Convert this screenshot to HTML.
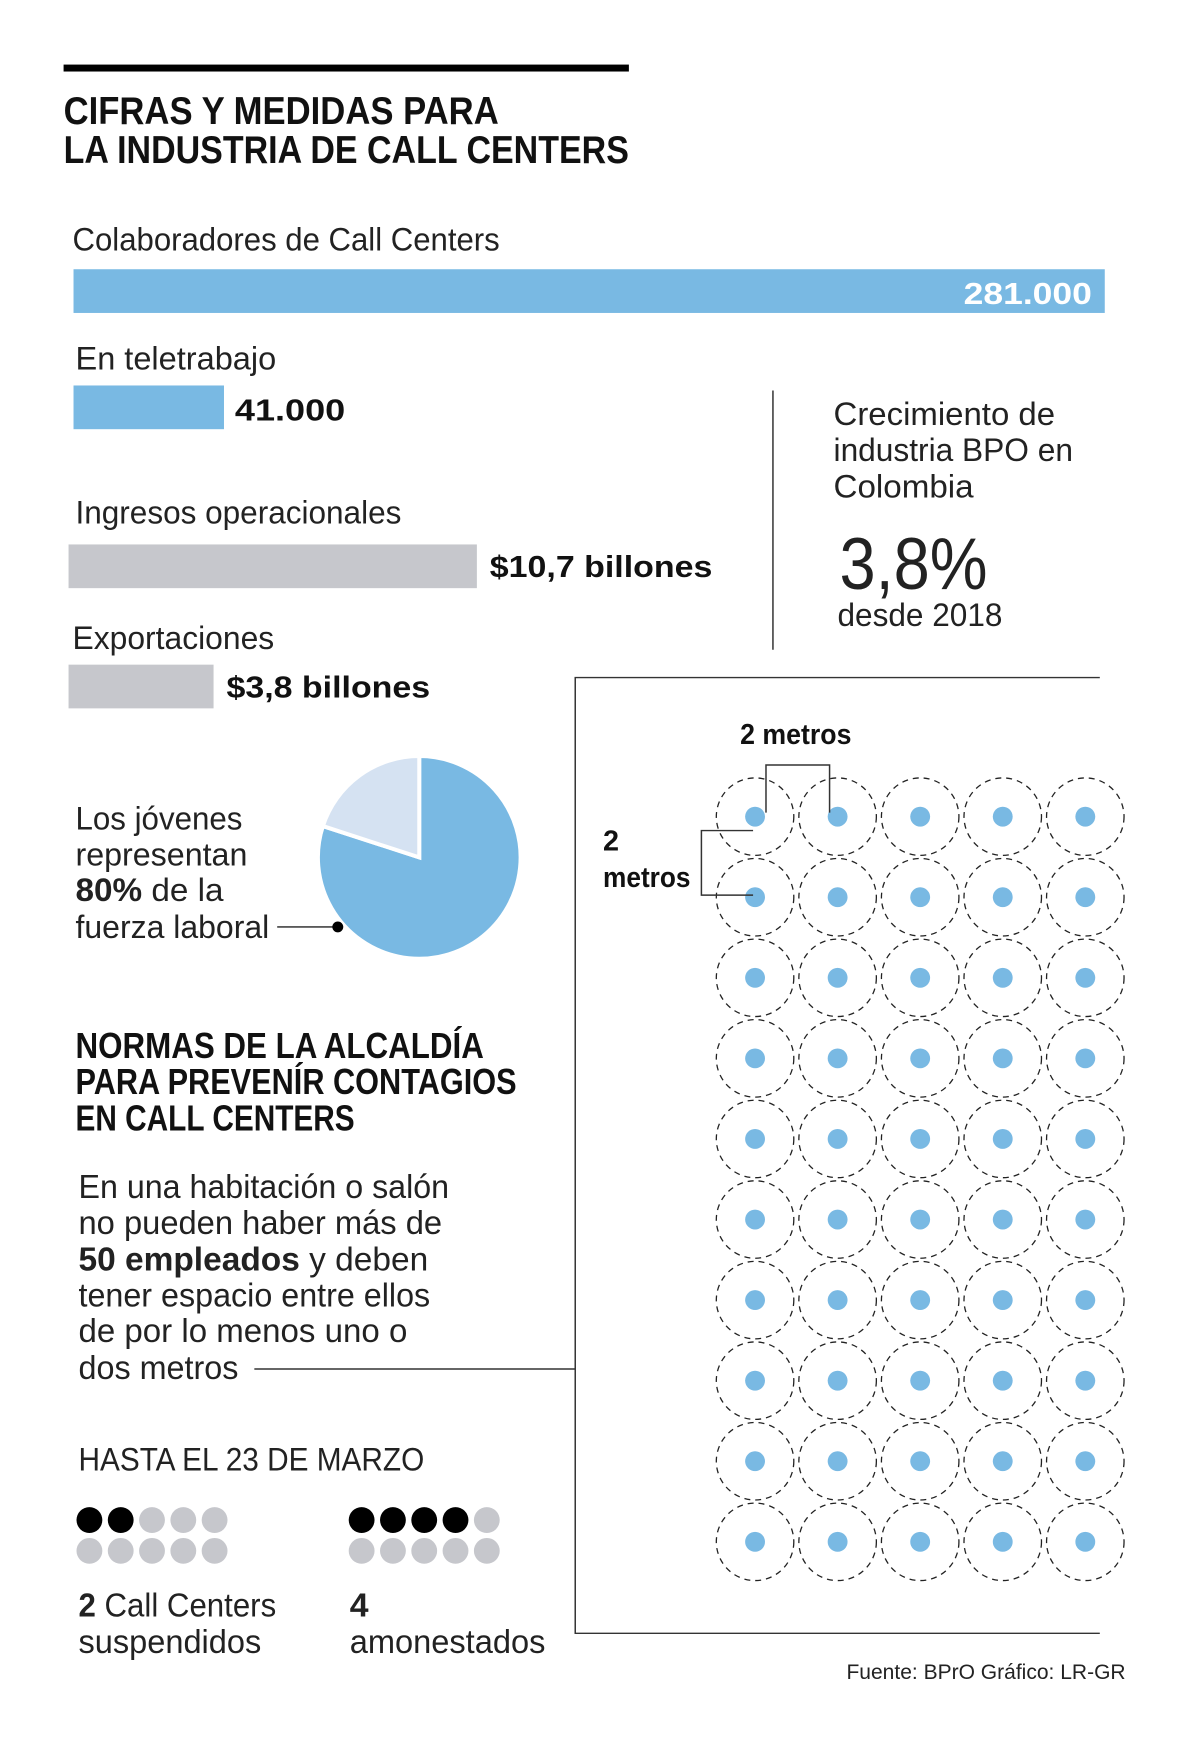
<!DOCTYPE html>
<html><head><meta charset="utf-8"><style>
html,body{margin:0;padding:0;background:#fff;}
svg{display:block;font-family:"Liberation Sans",sans-serif;}
</style></head><body>
<svg id="c" width="1200" height="1748" viewBox="0 0 1200 1748" xmlns="http://www.w3.org/2000/svg">
<g transform="scale(0.9935)">
<rect x="64" y="65" width="569" height="7" fill="#000"/>
<g font-weight="bold" font-size="39" fill="#111">
<text x="64" y="125" textLength="438" lengthAdjust="spacingAndGlyphs">CIFRAS Y MEDIDAS PARA</text>
<text x="64" y="164" textLength="569" lengthAdjust="spacingAndGlyphs">LA INDUSTRIA DE CALL CENTERS</text>
</g>
<g id="bars"></g>
<line x1="778" y1="393" x2="778" y2="654" stroke="#333" stroke-width="1.5"/>
<g fill="#222" font-size="33">
<text x="839" y="428" textLength="223" lengthAdjust="spacingAndGlyphs">Crecimiento de</text>
<text x="839" y="464" textLength="241" lengthAdjust="spacingAndGlyphs">industria BPO en</text>
<text x="839" y="501" textLength="141" lengthAdjust="spacingAndGlyphs">Colombia</text>
<text x="845" y="593" font-size="74" textLength="149" lengthAdjust="spacingAndGlyphs">3,8%</text>
<text x="843" y="630" textLength="166" lengthAdjust="spacingAndGlyphs">desde 2018</text>
</g>
<g stroke="#333" stroke-width="1.5" fill="none">
<polyline points="1107,682 579,682 579,1644 1107,1644"/>
<line x1="256" y1="1378" x2="579" y2="1378"/>
</g>
<g id="grid"></g>
<g stroke="#333" stroke-width="1.5" fill="none">
<polyline points="771,818 771,770 835,770 835,818"/>
<polyline points="758,836 706,836 706,901 758,901"/>
</g>
<g font-weight="bold" font-size="29" fill="#111">
<text x="745" y="749" textLength="112" lengthAdjust="spacingAndGlyphs">2 metros</text>
<text x="607" y="856">2</text>
<text x="607" y="893" textLength="88" lengthAdjust="spacingAndGlyphs">metros</text>
</g>
<g id="pie"></g>
<g fill="#222" font-size="33">
<text x="76" y="835" textLength="168" lengthAdjust="spacingAndGlyphs">Los jóvenes</text>
<text x="76" y="871" textLength="173" lengthAdjust="spacingAndGlyphs">representan</text>
<text x="76" y="907" textLength="149" lengthAdjust="spacingAndGlyphs"><tspan font-weight="bold">80%</tspan> de la</text>
<text x="76" y="944" textLength="195" lengthAdjust="spacingAndGlyphs">fuerza laboral</text>
<line x1="279" y1="933" x2="340" y2="933" stroke="#222" stroke-width="1.5"/>
<circle cx="340" cy="933" r="5.5" fill="#000"/>
</g>
<g font-weight="bold" font-size="36" fill="#111">
<text x="76" y="1065" textLength="411" lengthAdjust="spacingAndGlyphs">NORMAS DE LA ALCALDÍA</text>
<text x="76" y="1101" textLength="444" lengthAdjust="spacingAndGlyphs">PARA PREVENÍR CONTAGIOS</text>
<text x="76" y="1138" textLength="281" lengthAdjust="spacingAndGlyphs">EN CALL CENTERS</text>
</g>
<g fill="#222" font-size="34">
<text x="79" y="1206" textLength="373" lengthAdjust="spacingAndGlyphs">En una habitación o salón</text>
<text x="79" y="1242" textLength="366" lengthAdjust="spacingAndGlyphs">no pueden haber más de</text>
<text x="79" y="1279" textLength="352" lengthAdjust="spacingAndGlyphs"><tspan font-weight="bold">50 empleados</tspan> y deben</text>
<text x="79" y="1315" textLength="354" lengthAdjust="spacingAndGlyphs">tener espacio entre ellos</text>
<text x="79" y="1351" textLength="331" lengthAdjust="spacingAndGlyphs">de por lo menos uno o</text>
<text x="79" y="1388" textLength="161" lengthAdjust="spacingAndGlyphs">dos metros</text>
</g>
<text x="79" y="1480" font-size="33" fill="#222" textLength="348" lengthAdjust="spacingAndGlyphs">HASTA EL 23 DE MARZO</text>
<g id="dots"></g>
<g fill="#222" font-size="34">
<text x="79" y="1627" textLength="199" lengthAdjust="spacingAndGlyphs"><tspan font-weight="bold">2</tspan> Call Centers</text>
<text x="79" y="1664" textLength="184" lengthAdjust="spacingAndGlyphs">suspendidos</text>
<text x="352" y="1627" font-weight="bold">4</text>
<text x="352" y="1664" textLength="197" lengthAdjust="spacingAndGlyphs">amonestados</text>
</g>
<text x="852" y="1690" font-size="21" fill="#222" textLength="281" lengthAdjust="spacingAndGlyphs">Fuente: BPrO   Gráfico: LR-GR</text>
</g>
</svg>
<script>
const NS='http://www.w3.org/2000/svg';
// bar data
const barLabels=['Colaboradores de Call Centers','En teletrabajo'];
const barValues=[281000,41000];
const barTexts=['281.000','41.000'];
const moneyLabels=['Ingresos operacionales','Exportaciones'];
const moneyValues=[10.7,3.8];
const moneyTexts=['$10,7 billones','$3,8 billones'];
// pie data
const pieValues=[80,20];
// grid data
const gridRows=10;
const gridCols=5;
// dot count data
const suspended=2;
const warned=4;
const groupTotal=10;

function mk(tag,attrs,parent){const e=document.createElementNS(NS,tag);for(const k in attrs)e.setAttribute(k,attrs[k]);parent.appendChild(e);return e;}
const bars=document.getElementById('bars');
const xPeople=v=>v*(1038/281000);
const xMoney=v=>v*(411/10.7);
const labW=[430,202], labY=[252,372], barY=[271,388], valW=[129,111];
barValues.forEach((v,i)=>{
  const t=mk('text',{x:73+(i?3:0),y:labY[i],'font-size':33,fill:'#222',textLength:labW[i],lengthAdjust:'spacingAndGlyphs'},bars);
  
  
  t.textContent=barLabels[i];
  const w=xPeople(v);
  const r=mk('rect',{x:74,y:barY[i],width:w,height:44,fill:'#79b9e3'},bars);
  
  
  const inside=i===0;
  const vt=mk('text',{x:inside?74+w-13-valW[i]:74+w+11,y:barY[i]+35,'font-size':31,'font-weight':'bold',fill:inside?'#fff':'#111',textLength:valW[i],lengthAdjust:'spacingAndGlyphs'},bars);
  
  
  vt.textContent=barTexts[i];
});
const mLabW=[328,203], mLabX=[76,73], mLabY=[527,653], mBarY=[548,669], mValW=[224,205];
moneyValues.forEach((v,i)=>{
  const t=mk('text',{x:mLabX[i],y:mLabY[i],'font-size':33,fill:'#222',textLength:mLabW[i],lengthAdjust:'spacingAndGlyphs'},bars);
  
  
  t.textContent=moneyLabels[i];
  const w=xMoney(v);
  const r=mk('rect',{x:69,y:mBarY[i],width:w,height:44,fill:'#c6c7cc'},bars);
  
  
  const vt=mk('text',{x:69+w+13,y:mBarY[i]+33,'font-size':31,'font-weight':'bold',fill:'#111',textLength:mValW[i],lengthAdjust:'spacingAndGlyphs'},bars);
  
  
  vt.textContent=moneyTexts[i];
});
// pie
const pie=document.getElementById('pie');
const cx=422,cy=863,R=102,total=pieValues.reduce((a,b)=>a+b,0);
const pieColors=['#79b9e3','#d5e2f2'];
let a0=0;
pieValues.forEach((v,i)=>{
  const a1=a0+v/total*Math.PI*2;
  const p=(a)=>[cx+R*Math.sin(a),cy-R*Math.cos(a)];
  const [x0,y0]=p(a0),[x1,y1]=p(a1);
  const large=(a1-a0)>Math.PI?1:0;
  const s=mk('path',{d:`M${cx},${cy}L${x0},${y0}A${R},${R} 0 ${large} 1 ${x1},${y1}Z`,fill:pieColors[i],stroke:'#fff','stroke-width':4,'stroke-linejoin':'miter'},pie);
  
  
  a0=a1;
});
// grid
const grid=document.getElementById('grid');
const colX=c=>760+c*83.1, rowY=r=>822+r*81.1;
for(let r=0;r<gridRows;r++)for(let c=0;c<gridCols;c++){
  const ring=mk('circle',{cx:colX(c),cy:rowY(r),r:39,fill:'none',stroke:'#222','stroke-width':1.3,'stroke-dasharray':'6 5'},grid);
  
  
  const d=mk('circle',{cx:colX(c),cy:rowY(r),r:10,fill:'#79b9e3'},grid);
  
  
}
// dots
const dots=document.getElementById('dots');
[[suspended,90],[warned,364]].forEach(([n,x0])=>{
  for(let k=0;k<groupTotal;k++){
    const c=mk('circle',{cx:x0+(k%5)*31.5,cy:1530+Math.floor(k/5)*31,r:13,fill:k<n?'#000':'#c6c7cc'},dots);
    
    
  }
});
</script>
</body></html>
